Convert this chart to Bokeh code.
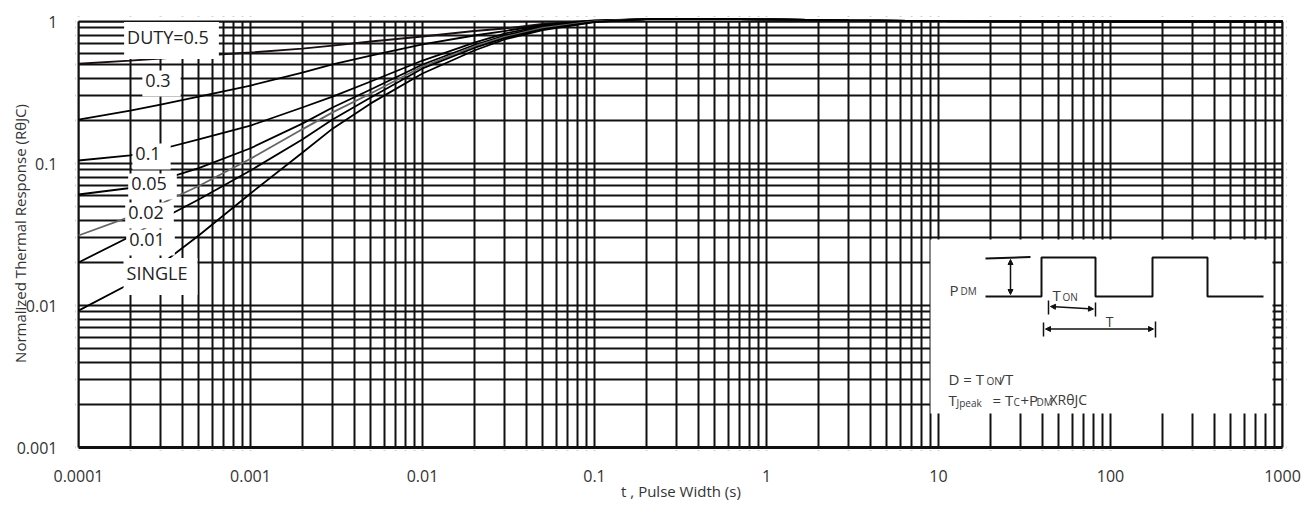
import math
from bokeh.plotting import figure
from bokeh.models import Range1d, FixedTicker, Label, Arrow, NormalHead
from bokeh.embed import file_html
from bokeh.resources import INLINE

# ---------------- data ----------------
pulse_width = [1e-4, 2e-4, 3e-4, 5e-4, 1e-3, 2e-3, 3e-3, 5e-3, 1e-2, 2e-2, 3e-2, 5e-2,
               0.1, 0.2, 0.5, 1, 3, 10, 100, 1000]

duty_05 = [0.504, 0.531, 0.549, 0.572, 0.605, 0.645, 0.677, 0.723, 0.784, 0.857, 0.893, 0.960,
           1.02, 1.04, 1.045, 1.035, 1.02, 1.005, 1.0, 1.0]
duty_03 = [0.204, 0.236, 0.260, 0.296, 0.354, 0.437, 0.498, 0.576, 0.689, 0.797, 0.857, 0.945,
           1.015, 1.04, 1.045, 1.035, 1.02, 1.005, 1.0, 1.0]
duty_01 = [0.105, 0.114, 0.126, 0.148, 0.185, 0.248, 0.296, 0.378, 0.531, 0.711, 0.823, 0.930,
           1.01, 1.04, 1.045, 1.035, 1.02, 1.005, 1.0, 1.0]
duty_005 = [0.0605, 0.0672, 0.0763, 0.0929, 0.128, 0.191, 0.248, 0.332, 0.498, 0.683, 0.797, 0.915,
            1.005, 1.04, 1.045, 1.035, 1.02, 1.005, 1.0, 1.0]
duty_002 = [0.0311, 0.0423, 0.0519, 0.0694, 0.108, 0.174, 0.229, 0.311, 0.482, 0.667, 0.778, 0.900,
            1.0, 1.04, 1.045, 1.035, 1.02, 1.005, 1.0, 1.0]
duty_001 = [0.0201, 0.0306, 0.0403, 0.0558, 0.0893, 0.1476, 0.204, 0.292, 0.467, 0.651, 0.765, 0.885,
            0.995, 1.04, 1.045, 1.035, 1.02, 1.005, 1.0, 1.0]
single = [0.0092, 0.0143, 0.0194, 0.0311, 0.0615, 0.119, 0.176, 0.265, 0.430, 0.625, 0.747, 0.871,
          0.99, 1.04, 1.045, 1.035, 1.02, 1.005, 1.0, 1.0]

curve_names = ["DUTY=0.5", "0.3", "0.1", "0.05", "0.02", "0.01", "SINGLE"]
curve_values = [duty_05, duty_03, duty_01, duty_005, duty_002, duty_001, single]
curve_colors = ["#1a1010", "#000000", "#000000", "#000000", "#666666", "#000000", "#000000"]

x_major = [0.0001, 0.001, 0.01, 0.1, 1, 10, 100, 1000]
x_labels = ["0.0001", "0.001", "0.01", "0.1", "1", "10", "100", "1000"]
y_major = [0.001, 0.01, 0.1, 1]
y_labels = ["0.001", "0.01", "0.1", "1"]

x_title = "t , Pulse Width (s)"
y_title = "Normalized Thermal Response (R\u03b8JC)"

# ---------------- layout helpers (pixel -> data for decorations) ----------------
W, H = 1307, 520
FL, FR, FT, FB = 75, 1286, 16, 450      # frame edges in px
X0, DX = 78, 172                          # px of 1e-4, px per decade
Y0, DY = 21, 142                          # px of 1, px per decade


def X(px):
    return 10 ** ((px - X0) / DX - 4)


def Y(py):
    return 10 ** (-(py - Y0) / DY)


FONT = "Open Sans"
INK = "#111111"
TXT = "#333333"

p = figure(width=W, height=H, x_axis_type="log", y_axis_type="log",
           x_range=Range1d(X(FL), X(FR)), y_range=Range1d(Y(FB), Y(FT)),
           output_backend="svg", toolbar_location=None,
           min_border_left=FL, min_border_right=W - FR,
           min_border_top=FT, min_border_bottom=H - FB)
p.outline_line_color = None
p.background_fill_color = "white"
p.border_fill_color = "white"

x_minor = [m * 10.0 ** e for e in range(-4, 3) for m in range(2, 10)]
y_minor = [m * 10.0 ** e for e in range(-3, 0) for m in range(2, 10)]
p.xaxis.ticker = FixedTicker(ticks=x_major, minor_ticks=x_minor)
p.yaxis.ticker = FixedTicker(ticks=y_major, minor_ticks=y_minor)
p.xaxis.major_label_overrides = dict(zip(x_major, x_labels))
p.yaxis.major_label_overrides = dict(zip(y_major, y_labels))

for ax in (p.xaxis, p.yaxis):
    ax.axis_line_color = None
    ax.major_tick_line_color = None
    ax.minor_tick_line_color = None
    ax.major_tick_out = 0
    ax.major_tick_in = 0
    ax.major_label_text_font = FONT
    ax.major_label_text_font_size = "16px"
    ax.major_label_text_color = TXT
    ax.axis_label_text_font = FONT
    ax.axis_label_text_font_size = "15px"
    ax.axis_label_text_font_style = "normal"
    ax.axis_label_text_color = TXT
p.xaxis.major_label_standoff = 15
p.yaxis.major_label_standoff = 14
p.xaxis.axis_label = x_title
p.yaxis.axis_label = y_title
p.xaxis.axis_label_standoff = -4
p.yaxis.axis_label_standoff = -16

for g in (p.xgrid, p.ygrid):
    g.grid_line_color = INK
    g.grid_line_width = 2
    g.grid_line_alpha = 1
    g.minor_grid_line_color = INK
    g.minor_grid_line_width = 2

# white margins inside the frame (outside the 1e-4..1000 x 0.001..1 box)
xa, xb, ya, yb = X(FL), X(FR), Y(FB), Y(FT)
p.quad(left=[xa, 1000, xa, xa], right=[1e-4, xb, xb, xb],
       bottom=[ya, ya, 1, ya], top=[yb, yb, yb, 0.001],
       fill_color="white", line_color=None)
# borders
p.segment(x0=[1e-4, 1000, 1e-4], y0=[0.001, 0.001, 1], x1=[1e-4, 1000, 1000], y1=[1, 1, 1],
          line_color=INK, line_width=2)
p.segment(x0=[1e-4], y0=[0.001], x1=[1000], y1=[0.001], line_color=INK, line_width=3.2)

# curves
for name, vals, col in zip(curve_names, curve_values, curve_colors):
    p.line(pulse_width, vals, line_color=col, line_width=1.8)

# curve labels (white boxes hide grid and curves)
label_pos = {"DUTY=0.5": (171, 40), "0.3": (161, 83), "0.1": (151, 156), "0.05": (152, 186),
             "0.02": (149, 215), "0.01": (150, 242), "SINGLE": (160, 276)}
for name in curve_names:
    cx, cy = label_pos[name]
    p.add_layout(Label(x=X(cx), y=Y(cy), text=name, text_align="center", text_baseline="middle",
                       text_font=FONT, text_font_size="18px", text_color="#222222",
                       background_fill_color="white", background_fill_alpha=1.0,
                       padding=(3, 10, 3, 10)))

# ---------------- inset diagram ----------------
p.quad(left=[X(930)], right=[X(1272)], bottom=[Y(413)], top=[Y(239)], fill_color="white", line_color=None)
wave_x = [985, 1041, 1041, 1095, 1095, 1152, 1152, 1207, 1207, 1263]
wave_y = [296, 296, 257, 257, 296, 296, 257, 257, 296, 296]
p.line([X(v) for v in wave_x], [Y(v) for v in wave_y], line_color=INK, line_width=2)
p.line([X(985), X(1030)], [Y(258), Y(256.5)], line_color=INK, line_width=2)
bars = [(1048, 300, 314), (1095, 302, 316), (1043, 322, 336), (1155, 321, 337)]
p.segment(x0=[X(b[0]) for b in bars], y0=[Y(b[1]) for b in bars],
          x1=[X(b[0]) for b in bars], y1=[Y(b[2]) for b in bars], line_color=INK, line_width=1.5)
for (x1, y1, x2, y2) in [(1010, 259, 1010, 294), (1050, 306, 1093, 308.5), (1045, 328.5, 1153, 328.5)]:
    p.add_layout(Arrow(x_start=X(x1), y_start=Y(y1), x_end=X(x2), y_end=Y(y2),
                       start=NormalHead(size=5, fill_color=INK, line_color=INK),
                       end=NormalHead(size=5, fill_color=INK, line_color=INK),
                       line_color=INK, line_width=1.5))


def txt(px, py, s, size, align="left"):
    p.add_layout(Label(x=X(px), y=Y(py), text=s, text_align=align, text_baseline="alphabetic",
                       text_font=FONT, text_font_size=size, text_color="#3a3a3a"))


txt(949, 289, "P", "15px")
txt(960, 290, "DM", "10px")
txt(1052, 294, "T", "15px")
txt(1062, 296, "ON", "10px")
txt(1109, 321, "T", "14px", "center")
txt(948, 378, "D = T", "15px")
txt(986, 380, "ON", "10px")
txt(999, 378, "/T", "15px")
txt(948, 399, "T", "15px")
txt(956, 402, "Jpeak", "10px")
txt(992, 399, "= T", "15px")
txt(1013, 401, "C", "10px")
txt(1020, 399, "+P", "15px")
txt(1036, 401, "DM", "10px")
txt(1049, 399, "XR\u03b8JC", "14px")

open("out.html", "w").write(file_html(p, INLINE))
